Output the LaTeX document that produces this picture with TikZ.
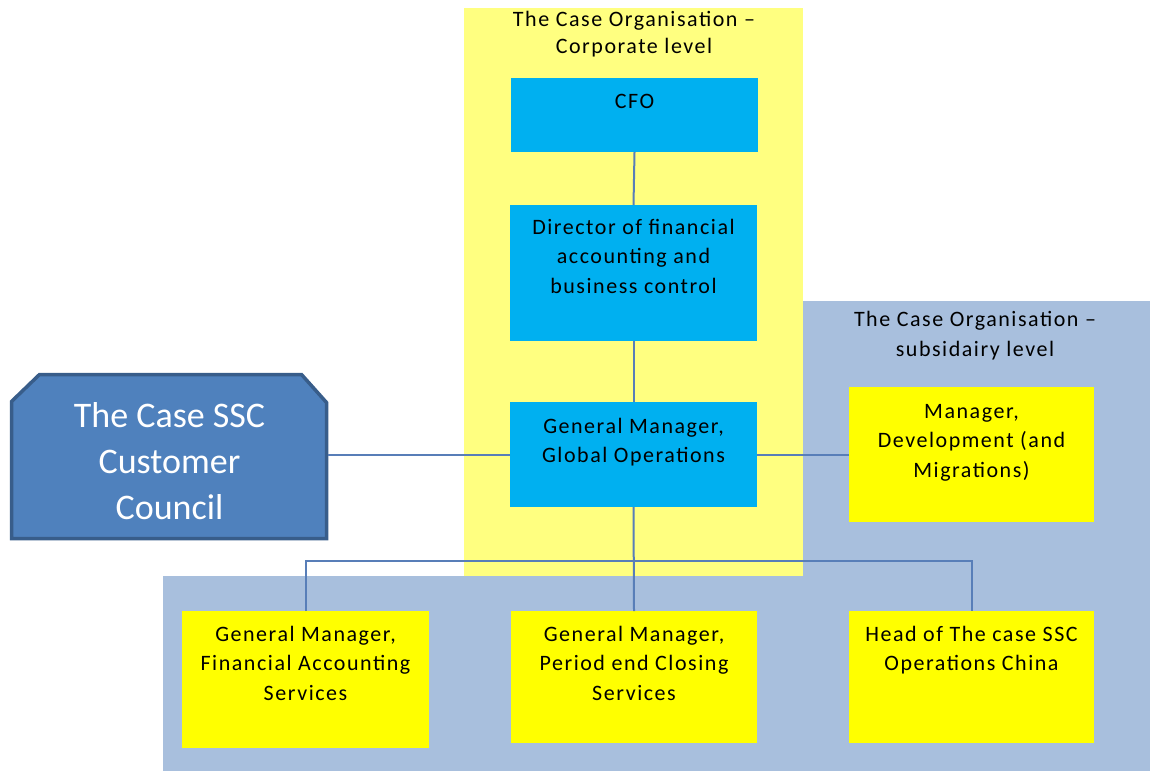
\documentclass[tikz,border=0pt]{standalone}
\usepackage{fontspec}
\setmainfont{Carlito}
\newfontfamily\rolefont{Carlito}[LetterSpace=7]
\usetikzlibrary{calc}

\definecolor{corpbg}{RGB}{255,255,128}
\definecolor{subbg}{RGB}{168,191,221}
\definecolor{roleyellow}{RGB}{255,255,0}
\definecolor{rolecyan}{RGB}{0,176,240}
\definecolor{councilfill}{RGB}{79,129,189}
\definecolor{councilline}{RGB}{56,93,138}
\definecolor{linkblue}{RGB}{88,126,184}

\begin{document}
\begin{tikzpicture}[x=1pt,y=-1pt,
  rolebox/.style={fill=#1, draw=none, inner sep=0pt, outer sep=0pt},
  % anchored at the baseline of the last line
  roletext/.style={anchor=base, align=center, inner sep=0pt,
    font=\rolefont\fontsize{22}{29.5}\selectfont},
  link/.style={draw=linkblue, line width=2pt},
  councilarea/.style={draw=none, inner sep=0pt, outer sep=0pt,
    minimum width=315pt, minimum height=164pt},
  councilshape/.style={fill=councilfill, draw=councilline, line width=3.5pt, line join=miter}]
\useasboundingbox (0,0) rectangle (1150,771);

% organisational levels
\fill[subbg] (803,301) rectangle (1150,771);
\fill[subbg] (163,576) rectangle (1150,771);
\fill[corpbg] (464,8) rectangle (803,576);

\node[roletext, font=\rolefont\fontsize{22}{27}\selectfont] (corptitle) at (634,53)
  {The Case Organisation –\\Corporate level};
\node[roletext] (subtitle) at (975,356) {The Case Organisation –\\subsidairy level};

% role boxes
\node[rolebox=rolecyan, minimum width=247pt, minimum height=74pt] (cfo) at (634.5,115) {};
\node[rolebox=rolecyan, minimum width=247pt, minimum height=136pt] (dir) at (633.5,273) {};
\node[rolebox=rolecyan, minimum width=247pt, minimum height=105pt] (gm) at (633.5,454.5) {};
\node[rolebox=roleyellow, minimum width=245pt, minimum height=135pt] (dev) at (971.5,454.5) {};
\node[rolebox=roleyellow, minimum width=247pt, minimum height=137pt] (fas) at (305.5,679.5) {};
\node[rolebox=roleyellow, minimum width=246pt, minimum height=132pt] (pec) at (634,677) {};
\node[rolebox=roleyellow, minimum width=245pt, minimum height=132pt] (head) at (971.5,677) {};

\node[roletext] (cfotext) at ([yshift=-30pt]cfo.north) {CFO};
\node[roletext] (dirtext) at ([yshift=-88pt]dir.north) {Director of financial\\accounting and\\business control};
\node[roletext] (gmtext) at ([yshift=-60.5pt]gm.north) {General Manager,\\Global Operations};
\node[roletext] (devtext) at ([yshift=-90pt]dev.north) {Manager,\\Development (and\\Migrations)};
\node[roletext] (fastext) at ([yshift=-89pt]fas.north) {General Manager,\\Financial Accounting\\Services};
\node[roletext] (pectext) at ([yshift=-89pt]pec.north) {General Manager,\\Period end Closing\\Services};
\node[roletext] (headtext) at ([yshift=-59.5pt]head.north) {Head of The case SSC\\Operations China};

% customer council, with its two top corners cut off
\node[councilarea] (cc) at (169,456.5) {};
\draw[councilshape] (cc.south west) -- ([yshift=-27pt]cc.north west)
  -- ([xshift=28pt]cc.north west) -- ([xshift=-25pt]cc.north east)
  -- ([yshift=-28pt]cc.north east) -- (cc.south east) -- cycle;
\node[anchor=base, align=center, inner sep=0pt, text=white,
  font=\fontsize{36}{46}\selectfont] (cctext) at (169.5,519) {The Case SSC\\Customer\\Council};

% reporting lines
\coordinate (bus) at (634,561);
\draw[link] (cfo.south) -- (dir.north);
\draw[link] (dir.south) -- (gm.north);
\draw[link] (gm.south) -- (pec.north);
\draw[link] (gm.west) -- ([xshift=1.75pt]gm.west -| cc.east);
\draw[link] (gm.east) -- (dev.west);
\draw[link] (fas.north) |- (bus) -| (head.north);
\end{tikzpicture}
\end{document}
